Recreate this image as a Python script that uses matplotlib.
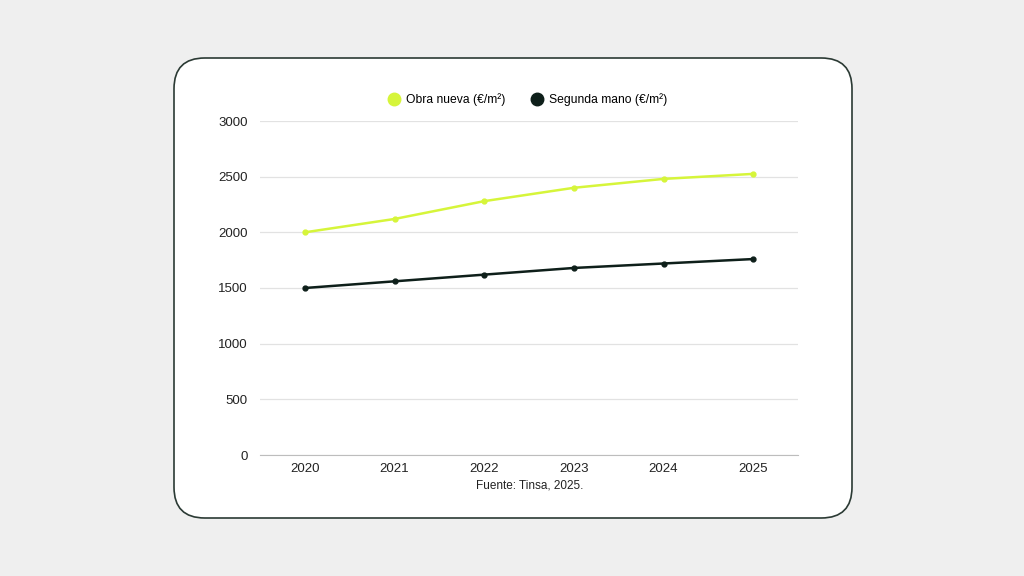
import matplotlib
matplotlib.use('Agg')
import matplotlib.pyplot as plt
from matplotlib.patches import FancyBboxPatch
from matplotlib.lines import Line2D


# %% data

years = ['2020', '2021', '2022', '2023', '2024', '2025']
obra_nueva = [2000, 2120, 2280, 2400, 2480, 2525]
segunda_mano = [1500, 1560, 1620, 1680, 1720, 1760]
y_ticks = [0, 500, 1000, 1500, 2000, 2500, 3000]

lime = '#d6f53a'
dark = '#0e1f1a'

plt.rcParams['font.family'] = ['Liberation Sans', 'DejaVu Sans']

# %% figure

fig = plt.figure(figsize=(10.24, 5.76), dpi=100)
fig.patch.set_facecolor('#efefef')

# card (behind the axes)
card = FancyBboxPatch((174 / 1024, 1 - 518 / 576), (852 - 174) / 1024, (518 - 58) / 576,
                      boxstyle='round,pad=0,rounding_size=0.03',
                      transform=fig.transFigure, facecolor='white',
                      edgecolor='#2b3a34', linewidth=1.2, mutation_aspect=1024 / 576,
                      zorder=-1)
fig.patches.append(card)

ax = fig.add_axes([260 / 1024, 1 - 455 / 576, (798 - 260) / 1024, (455 - 121) / 576])
ax.set_facecolor('none')
ax.set_zorder(2)

x = list(range(len(years)))
ax.plot(x, obra_nueva, color=lime, lw=1.8, marker='o', ms=3.5, zorder=3)
ax.plot(x, segunda_mano, color=dark, lw=1.8, marker='o', ms=3.5, zorder=3)

ax.set_xlim(-0.5, len(years) - 0.5)
ax.set_ylim(0, 3000)
ax.set_xticks(x)
ax.set_xticklabels(years)
ax.set_yticks(y_ticks)
ax.tick_params(axis='both', length=0, labelsize=9.5, colors='#222222')
ax.tick_params(axis='x', pad=6)
ax.tick_params(axis='y', pad=9)
ax.grid(axis='y', color='#e2e2e2', lw=0.9)
ax.set_axisbelow(True)
for s in ['top', 'right', 'left']:
    ax.spines[s].set_visible(False)
ax.spines['bottom'].set_color('#bdbdbd')

# legend
handles = [Line2D([], [], ls='', marker='o', ms=9, color=lime),
           Line2D([], [], ls='', marker='o', ms=9, color=dark)]
fig.legend(handles, ['Obra nueva (€/m²)', 'Segunda mano (€/m²)'],
           loc='center', bbox_to_anchor=(527 / 1024, 1 - 100 / 576), ncol=2,
           frameon=False, fontsize=8.7, handletextpad=0.4, columnspacing=2.0,
           handlelength=1.2)

fig.text(530 / 1024, 1 - 485 / 576, 'Fuente: Tinsa, 2025.', ha='center', va='center',
         fontsize=8.5, color='#222222')

plt.savefig('out.png', dpi=100, facecolor=fig.get_facecolor())
